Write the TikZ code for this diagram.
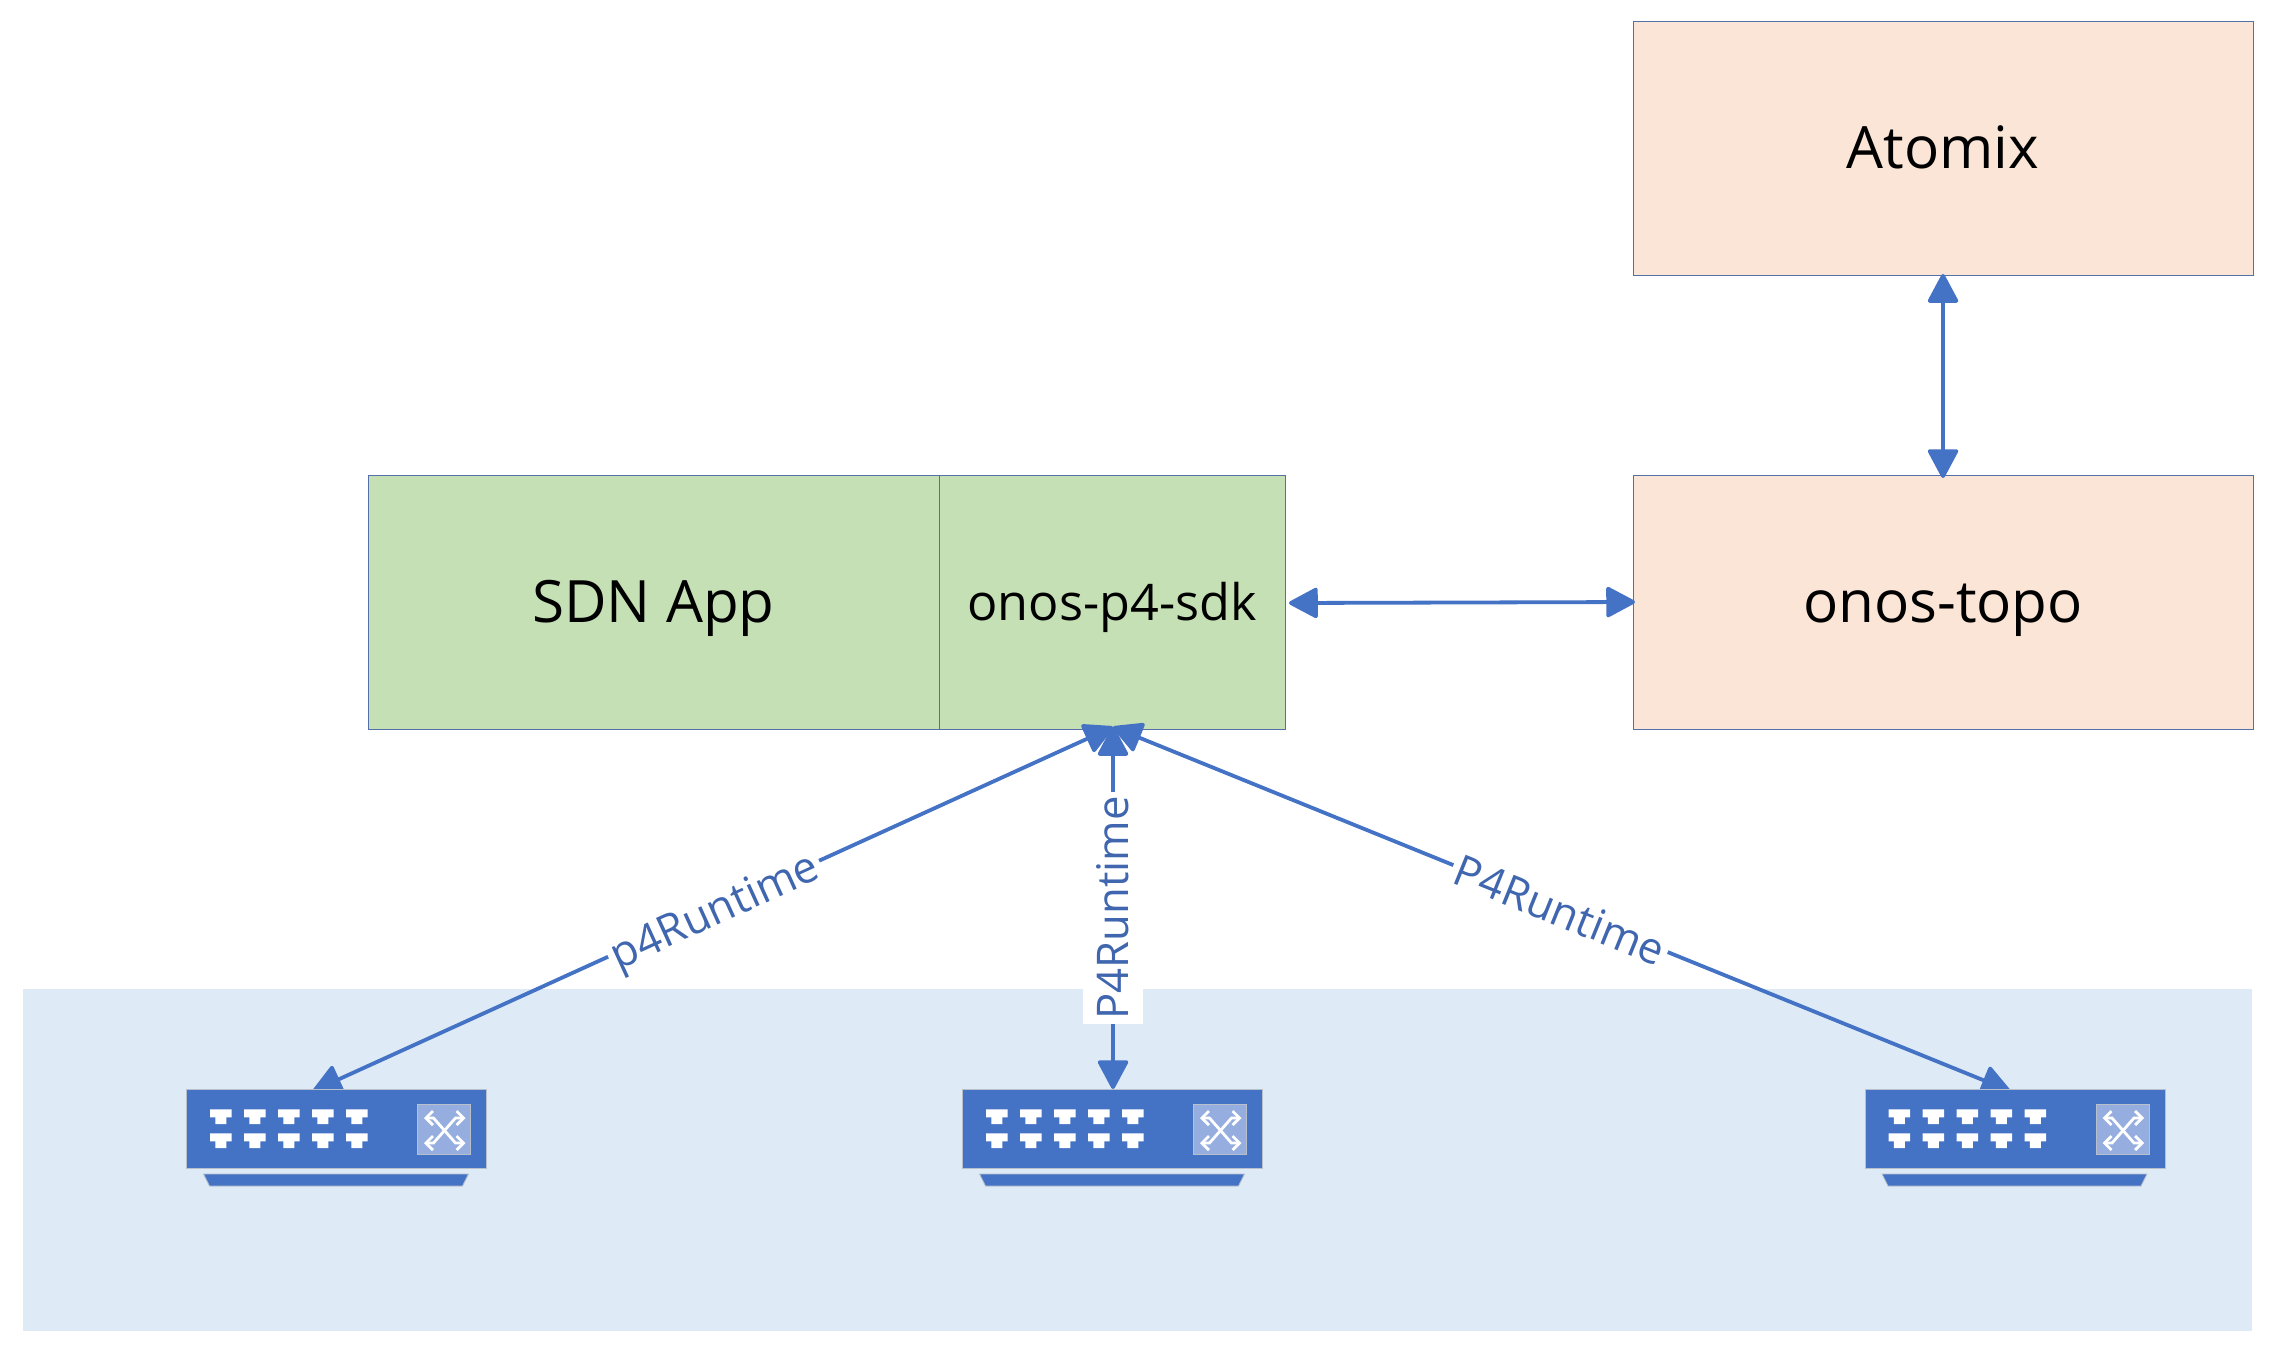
\documentclass[tikz,border=0pt]{standalone}
\usepackage{fontspec}
\setmainfont{Open Sans}
\usetikzlibrary{arrows.meta}
\definecolor{cgreen}{HTML}{C5E0B4}
\definecolor{corange}{HTML}{FBE5D6}
\definecolor{cband}{HTML}{DEEAF6}
\definecolor{cblue}{HTML}{4472C4}
\definecolor{cedge}{HTML}{5570A8}
\definecolor{ctext}{HTML}{3F66AE}
\definecolor{cicon}{HTML}{96AEDF}
\definecolor{cswedge}{HTML}{B8C0CC}
\tikzset{
  x=0.5pt,y=-0.5pt,
  boxnode/.style={draw=cedge,line width=0.5pt,outer sep=0pt,minimum height=127pt,inner sep=0pt,anchor=north west},
  bigtext/.style={font=\fontsize{29.2}{34}\selectfont,text=black,text height=20pt,text depth=0pt},
  link/.style={cblue,line width=1.9pt,{Triangle[round,length=15.5pt,width=16pt]}-{Triangle[round,length=15.5pt,width=16pt]}},
  linklabel/.style={fill=white,text=ctext,inner xsep=2pt,inner ysep=1pt,font=\fontsize{21.8}{26}\selectfont},
  swpic/.pic={
    \node[draw=cswedge,line width=0.4pt,fill=cblue,outer sep=0pt,anchor=north west,minimum width=150pt,minimum height=39.5pt,inner sep=0pt] (-body) at (0,0) {};
    \fill[cblue,draw=cswedge,line width=0.4pt] (17,85)--(282,85)--(276,97)--(23,97)--cycle;
    \foreach \i in {0,1,2,3,4}{
      \foreach \r in {20.3,44.3}{
        \fill[white] ({23.5+34*\i},\r)--++(21.7,0)--++(0,8)--++(-5.3,0)--++(0,6.7)--++(-11.1,0)--++(0,-6.7)--++(-5.3,0)--cycle;
      }
    }
    \draw[fill=cicon,draw=cswedge,line width=0.3pt] (231,15) rectangle (284,65);
    \draw[white,line width=1.4pt,{Straight Barb[length=3.5pt,width=7pt]}-{Straight Barb[length=3.5pt,width=7pt]}] (237.5,29)--(247,29)--(269,54)--(279,54);
    \draw[white,line width=1.4pt,{Straight Barb[length=3.5pt,width=7pt]}-{Straight Barb[length=3.5pt,width=7pt]}] (237.5,54)--(247,54)--(269,29)--(279,29);
  }
}
\begin{document}
\begin{tikzpicture}
\useasboundingbox (0,0) rectangle (2275,1355);
\fill[white] (0,0) rectangle (2275,1355);
\node[fill=cband,anchor=north west,outer sep=0pt,minimum width=1114.5pt,minimum height=171pt,inner sep=0pt] (band) at (23,988.5) {};
\node[boxnode,fill=corange,minimum width=310pt,bigtext] (atomix) at (1633,21.5) {Atomix};
\node[boxnode,fill=corange,minimum width=310pt,bigtext] (topo) at (1633,475) {onos-topo};
\node[boxnode,fill=cgreen,minimum width=285.5pt,bigtext] (app) at (368,475) {SDN App};
\node[boxnode,fill=cgreen,minimum width=173pt,font=\fontsize{25.2}{30}\selectfont,text=black,text height=18pt,text depth=0pt] (sdk) at (939,475) {onos-p4-sdk};
\coordinate (hub) at (1113,727);
\coordinate (tipa) at (313,1091);
\coordinate (tipb) at (1113,1089);
\coordinate (tipc) at (2010,1091);
\coordinate (sdkr) at (1289,603);
\coordinate (topol) at (1635,602);
\coordinate (atomb) at (1943,274);
\coordinate (topot) at (1943,478);
\draw[link] (atomb) -- (topot);
\draw[link] (sdkr) -- (topol);
\draw[link] (hub) -- (tipa);
\draw[link] (hub) -- (tipb);
\draw[link] (hub) -- (tipc);
\node[linklabel,rotate=24.5] (la) at (716,914) {p4Runtime};
\node[linklabel,rotate=90,inner xsep=2pt,inner ysep=0pt,text height=15.6pt,text depth=0pt,minimum height=30pt] (lb) at (1113,908) {P4Runtime};
\node[linklabel,rotate=-22] (lc) at (1560,910) {P4Runtime};
\pic (sw1) at (186.5,1089) {swpic};
\pic (sw2) at (962.5,1089) {swpic};
\pic (sw3) at (1865,1089) {swpic};
\end{tikzpicture}
\end{document}
